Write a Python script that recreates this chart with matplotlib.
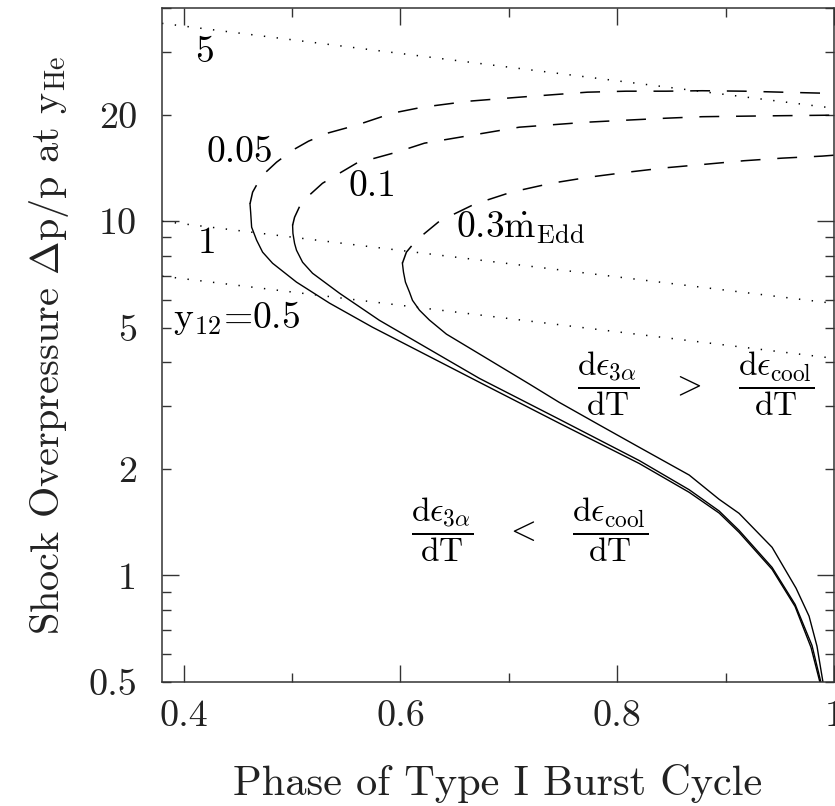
import matplotlib.pyplot as plt
from matplotlib.ticker import FixedLocator, FixedFormatter, NullFormatter

plt.rcParams['font.family'] = 'cmr10'
plt.rcParams['mathtext.fontset'] = 'cm'
plt.rcParams['axes.formatter.use_mathtext'] = True

# Lower (solid) branches, from the turning point down to the bottom
x_005_lo = [0.4612, 0.4618, 0.4627, 0.4673, 0.4728, 0.4820, 0.5041, 0.5346, 0.5742,
            0.6728, 0.7465, 0.8203, 0.8664, 0.8940, 0.9124, 0.9429, 0.9641, 0.9788, 0.9871]
y_005_lo = [11.2, 10.60, 9.62, 8.84, 8.18, 7.61, 6.73, 5.87, 5.02,
            3.51, 2.69, 2.07, 1.716, 1.50, 1.323, 1.040, 0.817, 0.626, 0.498]

x_01_lo = [0.5005, 0.5008, 0.5023, 0.5041, 0.5097, 0.5189, 0.5438, 0.5806,
           0.6728, 0.7465, 0.8203, 0.8664, 0.8940, 0.9124, 0.9429, 0.9641, 0.9797, 0.9880]
y_01_lo = [9.74, 9.24, 8.66, 8.28, 7.66, 7.13, 6.26, 5.25,
           3.60, 2.76, 2.11, 1.745, 1.52, 1.34, 1.053, 0.828, 0.634, 0.498]

x_03_lo = [0.6018, 0.6028, 0.6046, 0.6083, 0.6111, 0.6175, 0.6267, 0.6424, 0.6728,
           0.7189, 0.7465, 0.7834, 0.8203, 0.8664, 0.8940, 0.9124, 0.9429, 0.9650,
           0.9770, 0.9843, 0.9899]
y_03_lo = [7.61, 7.18, 6.73, 6.31, 5.98, 5.61, 5.26, 4.80, 4.22,
           3.47, 3.08, 2.66, 2.30, 1.92, 1.64, 1.497, 1.20, 0.92,
           0.767, 0.631, 0.498]

# Upper (dashed) branches, from the turning point to the right edge
x_005_hi = [0.4612, 0.4636, 0.4682, 0.4728, 0.4857, 0.5005, 0.5152, 0.5327, 0.5594, 0.5926,
            0.6203, 0.6636, 0.7097, 0.7724, 0.8083, 0.8452, 0.8783, 0.9171, 0.9521, 1.0]
y_005_hi = [11.2, 12.08, 12.80, 13.49, 14.68, 15.87, 16.83, 17.73, 18.67, 20.19,
            20.99, 21.83, 22.40, 23.14, 23.29, 23.29, 23.36, 23.29, 23.14, 22.95]

x_01_hi = [0.5005, 0.5023, 0.5088, 0.5281, 0.5594, 0.5963, 0.6221, 0.7097,
           0.7724, 0.8083, 0.8452, 0.8783, 0.9171, 0.9521, 1.0]
y_01_hi = [9.74, 10.26, 11.32, 12.80, 14.58, 15.66, 16.61, 18.43,
           19.04, 19.29, 19.54, 19.73, 19.80, 19.86, 19.93]

x_03_hi = [0.6018, 0.6055, 0.6147, 0.6359, 0.6682, 0.7023, 0.7392, 0.7742,
           0.8092, 0.8452, 0.8820, 0.9171, 0.9521, 0.9889, 1.0]
y_03_hi = [7.61, 8.18, 8.84, 10.0, 11.17, 12.08, 12.80, 13.32,
           13.75, 14.16, 14.49, 14.82, 15.07, 15.27, 15.36]

# y12 = 5, 1, 0.5 lines (dotted)
x_y12 = [0.38, 1.0]
y_y12_5 = [36.2, 20.85]
y_y12_1 = [10.0, 5.86]
y_y12_05 = [7.0, 4.10]

fig = plt.figure(figsize=(8.35, 8.06), dpi=100)
ax = fig.add_axes([162 / 835, 1 - 682 / 806, (834 - 162) / 835, (682 - 8) / 806])

k = 'black'
for xs, ys in [(x_005_lo, y_005_lo), (x_01_lo, y_01_lo), (x_03_lo, y_03_lo)]:
    ax.plot(xs, ys, color=k, lw=1.0)
for xs, ys in [(x_005_hi, y_005_hi), (x_01_hi, y_01_hi), (x_03_hi, y_03_hi)]:
    ax.plot(xs, ys, color=k, lw=1.1, linestyle=(0, (13, 11)))
for ys in [y_y12_5, y_y12_1, y_y12_05]:
    ax.plot(x_y12, ys, color=k, lw=1.1, linestyle=(0, (0.9, 7.5)))

ax.set_yscale('log')
ax.set_xlim(0.38, 1.0)
ax.set_ylim(0.5, 40)

# ticks: long ones at 0.4, 0.6, 0.8, 1 and at 1, 10
ax.xaxis.set_major_locator(FixedLocator([0.4, 0.6, 0.8, 1.0]))
ax.xaxis.set_major_formatter(FixedFormatter(['0.4', '0.6', '0.8', '1']))
ax.xaxis.set_minor_locator(FixedLocator([0.5, 0.7, 0.9]))
ax.xaxis.set_minor_formatter(NullFormatter())

ax.yaxis.set_major_locator(FixedLocator([1, 10]))
ax.yaxis.set_major_formatter(FixedFormatter(['1', '10']))
yminor = [0.5, 0.6, 0.7, 0.8, 0.9, 2, 3, 4, 5, 6, 7, 8, 9, 20, 30, 40]
yminor_lab = ['0.5', '', '', '', '', '2', '', '', '5', '', '', '', '', '20', '', '']
ax.yaxis.set_minor_locator(FixedLocator(yminor))
ax.yaxis.set_minor_formatter(FixedFormatter(yminor_lab))

ax.tick_params(which='both', direction='in', top=True, right=True,
               labelsize=27.5, width=1.0, color='#333333', labelcolor='#222222')
ax.tick_params(axis='x', which='both', pad=13)
ax.tick_params(axis='y', which='both', pad=18)
ax.tick_params(which='major', length=12)
ax.tick_params(which='minor', length=6.5)
for s in ax.spines.values():
    s.set_linewidth(1.1)
    s.set_color('#333333')

ax.set_xlabel('Phase of Type I Burst Cycle', fontsize=30.5, labelpad=22, color='#222222')
ax.set_ylabel(r'Shock Overpressure $\Delta$p/p at y$_{\rm He}$', fontsize=29,
              labelpad=12, color='#222222')

fs = 27
ax.text(0.4194, 30.0, '5', fontsize=fs, ha='center', va='center')
ax.text(0.4212, 8.66, '1', fontsize=fs, ha='center', va='center')
ax.text(0.3899, 5.32, r'y$_{12}$=0.5', fontsize=fs, ha='left', va='center')
ax.text(0.4516, 15.66, '0.05', fontsize=fs, ha='center', va='center')
ax.text(0.5742, 12.55, '0.1', fontsize=fs, ha='center', va='center')
ax.text(0.6516, 9.56, r'0.3$\dot{\rm m}_{\rm Edd}$', fontsize=fs, ha='left', va='center')
ax.text(0.8728, 3.49,
        r'$\dfrac{{\rm d}\epsilon_{3\alpha}}{\rm dT}\quad>\quad\dfrac{{\rm d}\epsilon_{\rm cool}}{\rm dT}$',
        fontsize=24, ha='center', va='center')
ax.text(0.7189, 1.344,
        r'$\dfrac{{\rm d}\epsilon_{3\alpha}}{\rm dT}\quad<\quad\dfrac{{\rm d}\epsilon_{\rm cool}}{\rm dT}$',
        fontsize=24, ha='center', va='center')

fig.savefig('out.png', dpi=100)
